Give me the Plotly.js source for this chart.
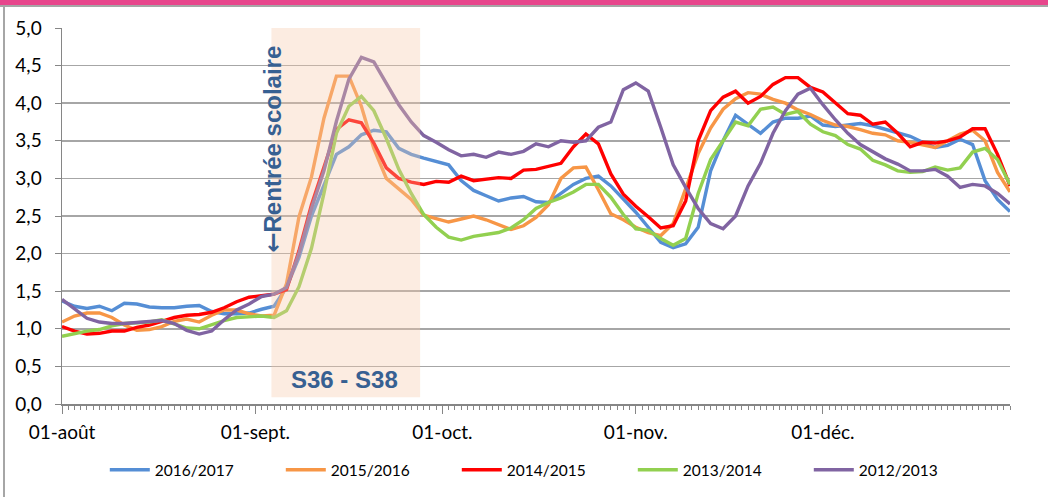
<!DOCTYPE html>
<html><head><meta charset="utf-8">
<script src="https://cdn.plot.ly/plotly-3.0.1.min.js"></script>
<style>
html,body{margin:0;padding:0;background:#fff;}
#wrap{position:relative;width:1048px;height:497px;overflow:hidden;background:#fff;}
#topbar{position:absolute;left:0;top:0;width:1048px;height:5px;background:#E7468C;}
#topline{position:absolute;left:0;top:5px;width:1048px;height:2px;background:#A6A6A6;}
#leftline{position:absolute;left:3px;top:6px;width:2px;height:491px;background:#A6A6A6;}
#chart{position:absolute;left:0;top:0;width:1048px;height:497px;}
</style></head>
<body>
<div id="wrap">
<div id="chart"></div>
<div id="topbar"></div><div id="topline"></div><div id="leftline"></div>
</div>
<script>
// Day offsets from 01 August (one value every 2 days, through 31 December)
const startDate = '2016-08-01';
const dayOffsets = [];
for (let d = 0; d <= 152; d += 2) dayOffsets.push(d);
const dates = dayOffsets.map(d => new Date(Date.UTC(2016, 7, 1 + d)).toISOString().slice(0, 10));

const seriesNames = ['2016/2017', '2015/2016', '2014/2015', '2013/2014', '2012/2013'];
const seriesColors = ['#558ED5', '#F79646', '#FF0000', '#92D050', '#8064A2'];

const s2016 = [1.37,1.30,1.27,1.30,1.24,1.34,1.33,1.29,1.28,1.28,
  1.30,1.31,1.23,1.20,1.20,1.21,1.26,1.30,1.55,1.95,
  2.50,2.92,3.32,3.42,3.58,3.64,3.62,3.40,3.32,3.27,
  3.23,3.18,2.97,2.84,2.77,2.70,2.74,2.76,2.69,2.68,
  2.80,2.92,3.00,3.03,2.90,2.73,2.55,2.35,2.15,2.08,
  2.13,2.35,3.10,3.50,3.84,3.72,3.60,3.75,3.80,3.80,
  3.83,3.71,3.69,3.71,3.73,3.70,3.65,3.60,3.56,3.48,
  3.41,3.44,3.52,3.45,2.97,2.72,2.56];
const s2015 = [1.09,1.17,1.21,1.21,1.15,1.05,0.98,0.99,1.03,1.10,
  1.13,1.09,1.18,1.25,1.25,1.20,1.17,1.18,1.60,2.49,
  3.02,3.80,4.36,4.36,3.96,3.40,3.00,2.86,2.72,2.51,
  2.46,2.42,2.46,2.50,2.45,2.39,2.32,2.37,2.48,2.65,
  3.00,3.14,3.15,2.85,2.53,2.45,2.35,2.28,2.24,2.40,
  2.86,3.33,3.67,3.92,4.06,4.14,4.12,4.05,4.00,3.91,
  3.85,3.77,3.71,3.69,3.65,3.60,3.58,3.50,3.48,3.44,
  3.41,3.50,3.59,3.64,3.50,3.08,2.82];
const s2014 = [1.03,0.97,0.93,0.94,0.97,0.97,1.02,1.05,1.10,1.15,
  1.18,1.19,1.22,1.28,1.36,1.42,1.44,1.46,1.52,2.04,
  2.65,3.16,3.65,3.78,3.74,3.47,3.14,3.00,2.95,2.92,
  2.96,2.95,3.03,2.97,2.99,3.01,3.00,3.11,3.12,3.16,
  3.20,3.42,3.59,3.46,3.06,2.79,2.63,2.49,2.34,2.37,
  2.70,3.50,3.90,4.08,4.16,4.00,4.09,4.25,4.34,4.34,
  4.21,4.15,4.00,3.86,3.84,3.72,3.75,3.60,3.42,3.48,
  3.47,3.50,3.55,3.66,3.66,3.32,2.90];
const s2013 = [0.90,0.94,0.97,0.99,1.04,1.07,1.08,1.09,1.12,1.07,
  1.01,1.00,1.06,1.11,1.15,1.16,1.17,1.15,1.24,1.56,
  2.07,2.80,3.60,3.96,4.09,3.90,3.53,3.12,2.80,2.52,
  2.35,2.22,2.18,2.23,2.25,2.28,2.34,2.45,2.60,2.68,
  2.74,2.82,2.92,2.92,2.75,2.52,2.33,2.31,2.20,2.11,
  2.20,2.80,3.25,3.50,3.75,3.70,3.92,3.95,3.85,3.89,
  3.72,3.62,3.57,3.45,3.39,3.24,3.18,3.10,3.08,3.09,
  3.15,3.11,3.14,3.35,3.40,3.25,2.92];
const s2012 = [1.39,1.26,1.14,1.09,1.07,1.07,1.08,1.10,1.11,1.07,
  0.98,0.93,0.97,1.12,1.25,1.33,1.43,1.46,1.55,2.00,
  2.60,3.10,3.76,4.32,4.61,4.55,4.26,3.98,3.75,3.57,
  3.48,3.38,3.30,3.32,3.28,3.35,3.32,3.36,3.46,3.42,
  3.50,3.48,3.50,3.68,3.75,4.18,4.27,4.16,3.68,3.18,
  2.88,2.60,2.40,2.33,2.50,2.90,3.20,3.60,3.90,4.12,
  4.20,3.98,3.78,3.60,3.45,3.35,3.26,3.19,3.10,3.10,
  3.12,3.03,2.88,2.92,2.90,2.80,2.66];
const seriesValues = [s2016, s2015, s2014, s2013, s2012];

const tickDates = ['2016-08-01', '2016-09-01', '2016-10-01', '2016-11-01', '2016-12-01'];
const tickLabels = ['01-août', '01-sept.', '01-oct.', '01-nov.', '01-déc.'];

// School-start shaded period (weeks 36 to 38)
const shadeStart = '2016-09-03 14:00';
const shadeEnd = '2016-09-27 10:00';
const labelBand = 'S36 - S38';
const labelRentree = '<span style="font-family:DejaVu Sans">←</span>Rentrée scolaire';

const traces = seriesNames.map((n, i) => ({
  x: dates, y: seriesValues[i], type: 'scatter', mode: 'lines', name: n,
  line: {color: seriesColors[i], width: 3.4}, hoverinfo: 'skip'
}));

const axisGray = '#868686';
const textBlue = '#376092';
const layout = {
  width: 1048, height: 497,
  margin: {l: 62, r: 38, t: 28, b: 93},
  paper_bgcolor: 'rgba(0,0,0,0)', plot_bgcolor: '#ffffff',
  separators: ', ',
  font: {family: 'Lato, Calibri, sans-serif', size: 19, color: '#000'},
  showlegend: true,
  legend: {orientation: 'h', xref: 'container', yref: 'container', x: 0.1, xanchor: 'left',
           y: 0.054, yanchor: 'middle', font: {size: 15.5}, entrywidth: 121, itemwidth: 40,
           traceorder: 'normal', bgcolor: 'rgba(0,0,0,0)'},
  xaxis: {type: 'date', range: [startDate, '2016-12-31'], tickmode: 'array', tickvals: tickDates,
          ticktext: tickLabels, ticks: 'outside', ticklen: 8, tickwidth: 1, tickcolor: axisGray,
          showline: true, linecolor: axisGray, linewidth: 1.5, showgrid: false, zeroline: false,
          ticklabelstandoff: 3,
          minor: {tickmode: 'linear', ticks: 'outside', ticklen: 4, tickwidth: 1, tickcolor: axisGray,
                  dtick: 86400000, tick0: startDate, showgrid: false}},
  yaxis: {range: [0, 5], tickmode: 'linear', tick0: 0, dtick: 0.5, tickformat: '.1f',
          ticks: 'outside', ticklen: 6, tickwidth: 1, tickcolor: axisGray,
          showline: true, linecolor: axisGray, linewidth: 1.5,
          gridcolor: '#A6A6A6', gridwidth: 1.5, zeroline: false, ticklabelstandoff: 9},
  shapes: [{type: 'rect', xref: 'x', yref: 'y', x0: shadeStart, x1: shadeEnd, y0: 0.09, y1: 5,
            fillcolor: 'rgba(245,200,170,0.35)', line: {width: 0}, layer: 'above'}],
  annotations: [
    {text: labelRentree, xref: 'x', yref: 'y', x: '2016-09-03 22:00', y: 3.39, showarrow: false,
     textangle: -90, font: {family: 'Liberation Sans, Arial, sans-serif', size: 24, color: textBlue, weight: 'bold'}},
    {text: labelBand, xref: 'x', yref: 'y', x: '2016-09-15 07:00', y: 0.32, showarrow: false,
     font: {family: 'Liberation Sans, Arial, sans-serif', size: 24, color: textBlue, weight: 'bold'}}
  ]
};
Plotly.newPlot('chart', traces, layout, {displayModeBar: false, staticPlot: true});
</script>
</body></html>
